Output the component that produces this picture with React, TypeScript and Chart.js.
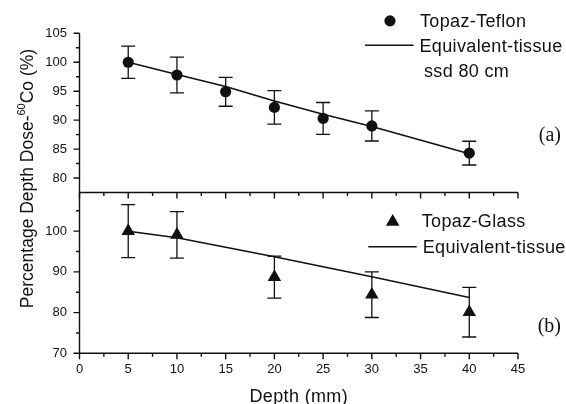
import React, { useEffect, useRef } from "react";
import { Chart, registerables } from "chart.js";

Chart.register(...registerables);

// ---------- data ----------
const teflonDepths = [5, 10, 15, 20, 25, 30, 40];
const teflonDose = [100, 97.8, 94.9, 92.2, 90.3, 89.0, 84.3];
const teflonError = [2.8, 3.1, 2.5, 2.9, 2.75, 2.6, 2.05];
const teflonTissue = [100, 97.9, 95.8, 93.3, 91.0, 88.9, 84.2];

const glassDepths = [5, 10, 20, 30, 40];
const glassDose = [100, 99.1, 88.7, 84.4, 80.1];
const glassError = [6.5, 5.7, 5.15, 5.6, 6.1];
const glassTissue = [100, 98.4, 93.7, 88.8, 83.7];

const xMajorTicks = [0, 5, 10, 15, 20, 25, 30, 35, 40, 45];
const xMinorTicks = [2.5, 7.5, 12.5, 17.5, 22.5, 27.5, 32.5, 37.5, 42.5];
const topYMajorTicks = [80, 85, 90, 95, 100, 105];
const topYMinorTicks = [82.5, 87.5, 92.5, 97.5, 102.5];
const bottomYMajorTicks = [70, 80, 90, 100];
const bottomYMinorTicks = [75, 85, 95, 105];

// ---------- layout / style ----------
const W = 566;
const H = 404;
const FONT = '"Liberation Sans", Arial, Helvetica, sans-serif';
const SERIF = '"Liberation Serif", "Times New Roman", serif';
const INK = "#111111";
const PLOT_LEFT = 79.5;
const PLOT_RIGHT = 518;
const TOP_Y = 33.3;
const MID_Y = 192.5;
const BOT_Y = 353.3;
const SPACING = "0.35px";

function drawAxes(
  chart: any,
  yMajor: number[],
  yMinor: number[],
  xLabels: boolean
) {
  const { ctx, chartArea } = chart;
  const xs = chart.scales.x;
  const ys = chart.scales.y;
  ctx.save();
  ctx.strokeStyle = INK;
  ctx.lineWidth = 1.4;
  ctx.beginPath();
  ctx.moveTo(chartArea.left, chartArea.top);
  ctx.lineTo(chartArea.left, chartArea.bottom);
  ctx.moveTo(chartArea.left - 0.7, chartArea.bottom);
  ctx.lineTo(chartArea.right, chartArea.bottom);
  for (const v of yMajor) {
    const py = ys.getPixelForValue(v);
    ctx.moveTo(chartArea.left - 6, py);
    ctx.lineTo(chartArea.left, py);
  }
  for (const v of yMinor) {
    const py = ys.getPixelForValue(v);
    ctx.moveTo(chartArea.left - 3.5, py);
    ctx.lineTo(chartArea.left, py);
  }
  for (const v of xMajorTicks) {
    const px = xs.getPixelForValue(v);
    ctx.moveTo(px, chartArea.bottom);
    ctx.lineTo(px, chartArea.bottom + 6);
  }
  for (const v of xMinorTicks) {
    const px = xs.getPixelForValue(v);
    ctx.moveTo(px, chartArea.bottom);
    ctx.lineTo(px, chartArea.bottom + 3.5);
  }
  ctx.stroke();

  ctx.fillStyle = INK;
  ctx.font = `13px ${FONT}`;
  ctx.textAlign = "right";
  ctx.textBaseline = "middle";
  for (const v of yMajor) {
    ctx.fillText(String(v), chartArea.left - 12.5, ys.getPixelForValue(v));
  }
  if (xLabels) {
    ctx.textAlign = "center";
    for (const v of xMajorTicks) {
      ctx.fillText(String(v), xs.getPixelForValue(v), chartArea.bottom + 16.5);
    }
  }
  ctx.restore();
}

function drawErrorBars(chart: any, datasetIndex: number, errors: number[]) {
  const { ctx } = chart;
  const ys = chart.scales.y;
  const meta = chart.getDatasetMeta(datasetIndex);
  const ds = chart.data.datasets[datasetIndex];
  ctx.save();
  ctx.strokeStyle = INK;
  ctx.lineWidth = 1.3;
  ctx.beginPath();
  meta.data.forEach((pt: any, i: number) => {
    const v = ds.data[i].y;
    const e = errors[i];
    const yTop = ys.getPixelForValue(v + e);
    const yBot = ys.getPixelForValue(v - e);
    const x = pt.x;
    ctx.moveTo(x, yTop);
    ctx.lineTo(x, yBot);
    ctx.moveTo(x - 7, yTop);
    ctx.lineTo(x + 7, yTop);
    ctx.moveTo(x - 7, yBot);
    ctx.lineTo(x + 7, yBot);
  });
  ctx.stroke();
  ctx.restore();
}

function legendLine(ctx: any, x1: number, x2: number, y: number) {
  ctx.save();
  ctx.strokeStyle = INK;
  ctx.lineWidth = 1.5;
  ctx.beginPath();
  ctx.moveTo(x1, y);
  ctx.lineTo(x2, y);
  ctx.stroke();
  ctx.restore();
}

function text(
  ctx: any,
  s: string,
  x: number,
  y: number,
  font: string,
  align = "left",
  spacing = SPACING
) {
  ctx.save();
  ctx.fillStyle = INK;
  ctx.font = font;
  ctx.letterSpacing = spacing;
  ctx.textAlign = align;
  ctx.textBaseline = "alphabetic";
  ctx.fillText(s, x, y);
  ctx.restore();
}

const topPlugin = {
  id: "topPanel",
  beforeDatasetsDraw(chart: any) {
    drawErrorBars(chart, 0, teflonError);
  },
  afterDraw(chart: any) {
    const { ctx } = chart;
    drawAxes(chart, topYMajorTicks, topYMinorTicks, false);
    // legend
    ctx.save();
    ctx.fillStyle = INK;
    ctx.beginPath();
    ctx.arc(390, 20.9, 5.6, 0, Math.PI * 2);
    ctx.fill();
    ctx.restore();
    text(ctx, "Topaz-Teflon", 420, 27.3, `18px ${FONT}`);
    legendLine(ctx, 365, 413.5, 45.3);
    text(ctx, "Equivalent-tissue", 419.5, 51.7, `18px ${FONT}`);
    text(ctx, "ssd 80 cm", 424, 77.3, `18px ${FONT}`);
    text(ctx, "(a)", 561, 140.5, `20px ${SERIF}`, "right", "0px");
  },
};

const bottomPlugin = {
  id: "bottomPanel",
  beforeDatasetsDraw(chart: any) {
    drawErrorBars(chart, 0, glassError);
  },
  afterDraw(chart: any) {
    const { ctx } = chart;
    drawAxes(chart, bottomYMajorTicks, bottomYMinorTicks, true);
    // legend
    const tx = 392.7;
    const ty = 221.8;
    const r = 7.8;
    ctx.save();
    ctx.fillStyle = INK;
    ctx.beginPath();
    ctx.moveTo(tx, ty - r);
    ctx.lineTo(tx + r * Math.sin((2 * Math.PI) / 3), ty + r / 2);
    ctx.lineTo(tx - r * Math.sin((2 * Math.PI) / 3), ty + r / 2);
    ctx.closePath();
    ctx.fill();
    ctx.restore();
    text(ctx, "Topaz-Glass", 421.7, 227.3, `18px ${FONT}`);
    legendLine(ctx, 368.3, 416.7, 246.8);
    text(ctx, "Equivalent-tissue", 422.7, 253.3, `18px ${FONT}`);
    text(ctx, "(b)", 561, 331.5, `20px ${SERIF}`, "right", "0px");

    // x title
    text(ctx, "Depth (mm)", (PLOT_LEFT + PLOT_RIGHT) / 2, 401.5, `18px ${FONT}`, "center");

    // y title (rotated, with superscript)
    ctx.save();
    ctx.translate(33, 178.5);
    ctx.rotate(-Math.PI / 2);
    ctx.fillStyle = INK;
    ctx.textBaseline = "alphabetic";
    ctx.textAlign = "left";
    const big = `17.5px ${FONT}`;
    const small = `11px ${FONT}`;
    const p1 = "Percentage Depth Dose-";
    const p2 = "60";
    const p3 = "Co (%)";
    ctx.font = big;
    const w1 = ctx.measureText(p1).width;
    const w3 = ctx.measureText(p3).width;
    ctx.font = small;
    const w2 = ctx.measureText(p2).width;
    const total = w1 + w2 + w3;
    let x = -total / 2;
    ctx.font = big;
    ctx.fillText(p1, x, 0);
    x += w1;
    ctx.font = small;
    ctx.fillText(p2, x, -8);
    x += w2;
    ctx.font = big;
    ctx.fillText(p3, x, 0);
    ctx.restore();
  },
};

export default function App() {
  const topRef = useRef<HTMLCanvasElement | null>(null);
  const bottomRef = useRef<HTMLCanvasElement | null>(null);

  useEffect(() => {
    if (!topRef.current || !bottomRef.current) return;

    const top = new Chart(topRef.current, {
      type: "scatter",
      data: {
        datasets: [
          {
            label: "Topaz-Teflon",
            data: teflonDepths.map((d, i) => ({ x: d, y: teflonDose[i] })),
            pointStyle: "circle",
            pointRadius: 5.6,
            pointBorderWidth: 0,
            backgroundColor: INK,
            borderColor: INK,
            showLine: false,
            order: 0,
          },
          {
            label: "Equivalent-tissue",
            data: teflonDepths.map((d, i) => ({ x: d, y: teflonTissue[i] })),
            showLine: true,
            borderColor: INK,
            borderWidth: 1.6,
            pointRadius: 0,
            order: 1,
          },
        ],
      },
      options: {
        responsive: false,
        animation: false,
        events: [],
        layout: {
          padding: { left: PLOT_LEFT, right: W - PLOT_RIGHT, top: TOP_Y, bottom: H - MID_Y },
        },
        scales: {
          x: { type: "linear", min: 0, max: 45, display: false },
          y: { type: "linear", min: 77.5, max: 105, display: false },
        },
        plugins: { legend: { display: false }, tooltip: { enabled: false } },
      },
      plugins: [topPlugin],
    } as any);

    const bottom = new Chart(bottomRef.current, {
      type: "scatter",
      data: {
        datasets: [
          {
            label: "Topaz-Glass",
            data: glassDepths.map((d, i) => ({ x: d, y: glassDose[i] })),
            pointStyle: "triangle",
            pointRadius: 7.8,
            pointBorderWidth: 0,
            backgroundColor: INK,
            borderColor: INK,
            showLine: false,
            order: 0,
          },
          {
            label: "Equivalent-tissue",
            data: glassDepths.map((d, i) => ({ x: d, y: glassTissue[i] })),
            showLine: true,
            borderColor: INK,
            borderWidth: 1.6,
            pointRadius: 0,
            order: 1,
          },
        ],
      },
      options: {
        responsive: false,
        animation: false,
        events: [],
        layout: {
          padding: { left: PLOT_LEFT, right: W - PLOT_RIGHT, top: MID_Y, bottom: H - BOT_Y },
        },
        scales: {
          x: { type: "linear", min: 0, max: 45, display: false },
          y: { type: "linear", min: 70, max: 109.5, display: false },
        },
        plugins: { legend: { display: false }, tooltip: { enabled: false } },
      },
      plugins: [bottomPlugin],
    } as any);

    return () => {
      top.destroy();
      bottom.destroy();
    };
  }, []);

  const canvasStyle: React.CSSProperties = {
    position: "absolute",
    left: 0,
    top: 0,
    width: W,
    height: H,
  };

  return (
    <div style={{ position: "fixed", left: 0, top: 0, width: W, height: H, background: "#fff" }}>
      <canvas ref={topRef} width={W} height={H} style={canvasStyle} />
      <canvas ref={bottomRef} width={W} height={H} style={canvasStyle} />
    </div>
  );
}
